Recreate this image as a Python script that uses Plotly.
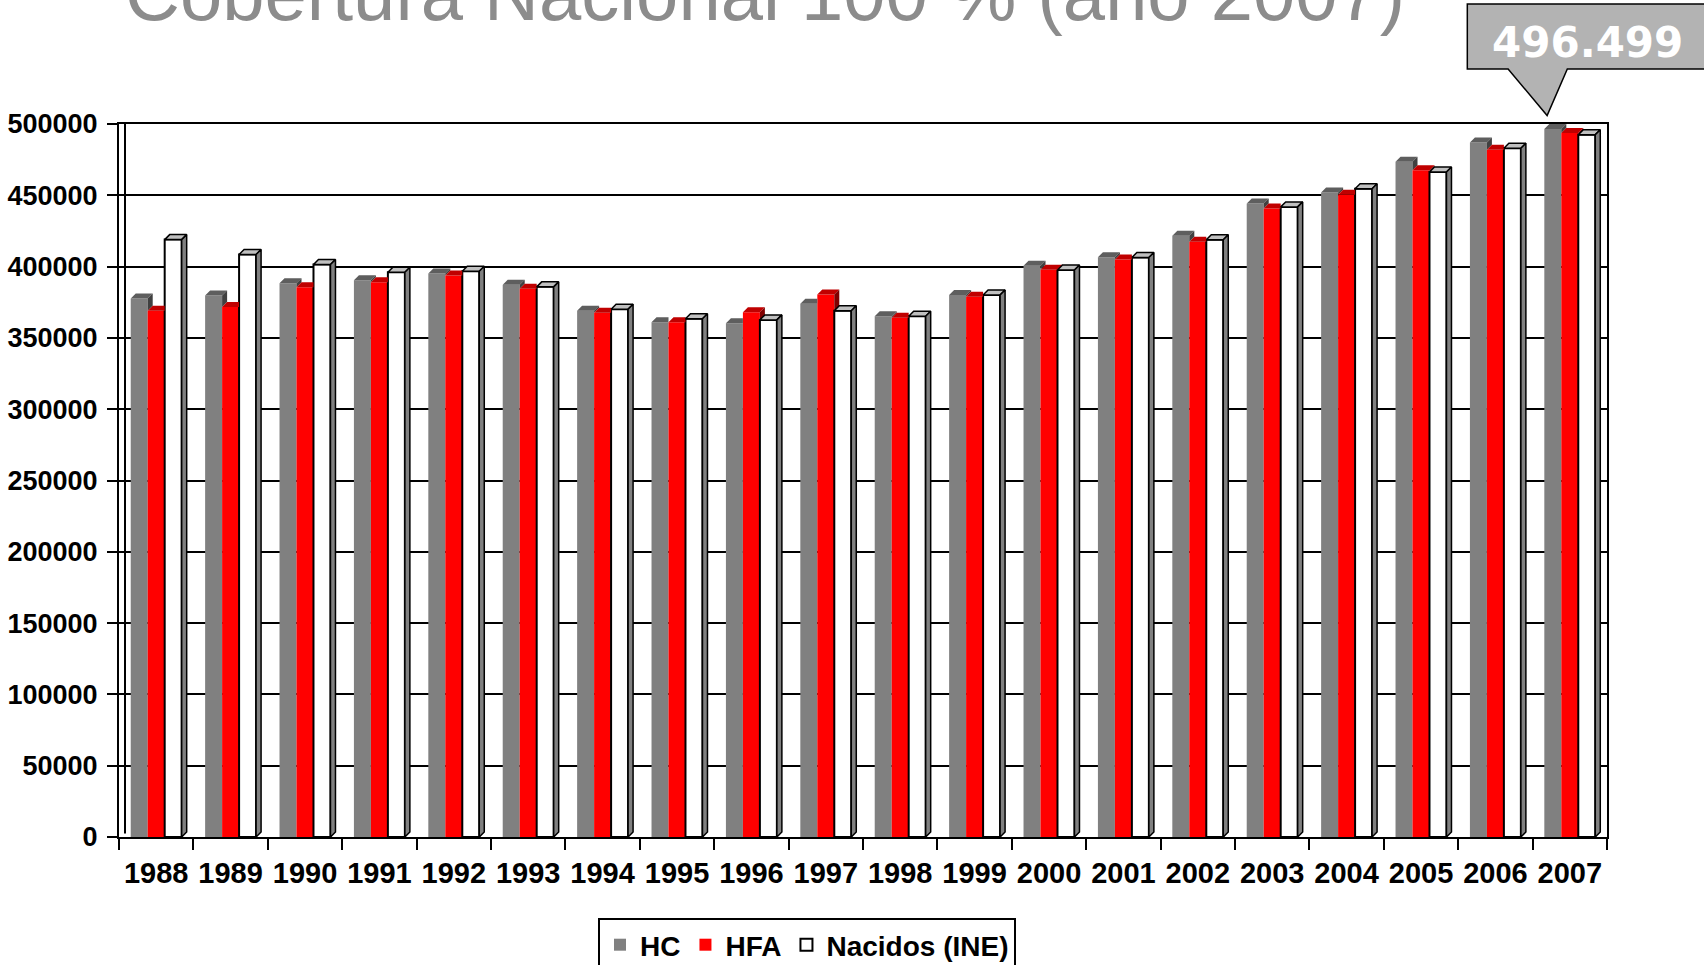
import plotly.graph_objects as go

# --- data -------------------------------------------------------------
years = [1988, 1989, 1990, 1991, 1992, 1993, 1994, 1995, 1996, 1997,
         1998, 1999, 2000, 2001, 2002, 2003, 2004, 2005, 2006, 2007]
hc = [377600, 379800, 388400, 390400, 395100, 387200, 369000, 360900, 360300, 373900,
      365200, 380100, 400600, 406600, 421600, 444300, 452000, 473600, 487100, 496499]
hfa = [369000, 371700, 385600, 389000, 393700, 384400, 367600, 360900, 368000, 380400,
       364100, 378900, 397800, 405000, 417500, 440800, 450400, 467500, 482000, 493700]
nacidos = [418919, 408434, 401425, 395989, 396747, 385786, 370148, 363469, 362626, 369035,
           365193, 380130, 397632, 406380, 418846, 441881, 454591, 466371, 482957, 492527]
series_names = ["HC", "HFA", "Nacidos (INE)"]
title_text = "Cobertura Nacional 100 % (año 2007)"

# --- geometry ---------------------------------------------------------
W, H = 1704, 965
L, R, T, B = 119, 97, 124, 128
plot_w = W - L - R
plot_h = H - T - B
YMAX = 500000
X0, X1 = years[0] - 0.5, years[-1] + 0.5
BARGAP = 0.315
bar_w = (1 - BARGAP) / 3
dx = 5.0 / plot_w * (X1 - X0)   # fake 3d depth, in data units
dy = 5.0 / plot_h * YMAX

FONT = "Liberation Sans, Arial, sans-serif"

front = ["#808080", "#ff0000", "#ffffff"]
top_col = ["#5e5e5e", "#c00000", "#c0c0c0"]
side_col = ["#404040", "#800000", "#808080"]
values = [hc, hfa, nacidos]


def px_x(px):
    return (px - L) / plot_w


def px_y(py):
    return (H - B - py) / plot_h


fig = go.Figure()

for i, (name, vals) in enumerate(zip(series_names, values)):
    fig.add_trace(go.Bar(
        x=years, y=vals, name=name,
        marker=dict(color=front[i],
                    line=dict(color="black", width=2 if i == 2 else 0)),
        hoverinfo="x+y+name",
    ))

# top and side faces of the bars (drawn after, in series order)
for i, vals in enumerate(values):
    tops_x, tops_y, sides_x, sides_y = [], [], [], []
    off = (i - 1) * bar_w
    for j, yr in enumerate(years):
        v = vals[j]
        xa = yr + off - bar_w / 2
        xb = xa + bar_w
        vn = values[i + 1][j] if i < 2 else 0
        if i < 2 and vn >= v:
            tops_x += [xa, xb, xb, xa + dx, xa, None]
            tops_y += [v, v, v + dy, v + dy, v, None]
        else:
            tops_x += [xa, xb, xb + dx, xa + dx, xa, None]
            tops_y += [v, v, v + dy, v + dy, v, None]
            sides_x += [xb, xb, xb + dx, xb + dx, xb, None]
            sides_y += [vn, v, v + dy, vn + dy, vn, None]
    lw = 1.5 if i == 2 else 0
    for xs, ys, col in ((tops_x, tops_y, top_col[i]), (sides_x, sides_y, side_col[i])):
        if not xs:
            continue
        fig.add_trace(go.Scatter(
            x=xs, y=ys, mode="lines", fill="toself", fillcolor=col,
            line=dict(color="black" if i == 2 else col, width=lw),
            showlegend=False, hoverinfo="skip",
        ))

# back wall edge on the left
fig.add_shape(type="line", xref="paper", yref="paper",
              x0=px_x(125), x1=px_x(125), y0=0.005, y1=1,
              line=dict(color="black", width=2))

# callout pointing at the 2007 HC bar
anchor_x = (years[-1] - bar_w - X0) / (X1 - X0)
anchor_y = hc[-1] / YMAX
fig.add_shape(
    type="path", xref="paper", yref="paper", layer="below",
    xsizemode="pixel", ysizemode="pixel",
    xanchor=anchor_x, yanchor=anchor_y,
    path="M -85.5,60 L -44.7,60 L -5.7,13.5 L 14.5,60 L 170,60 L 170,125 L -85.5,125 Z",
    fillcolor="#b3b3b3", line=dict(color="black", width=1.5),
)
fig.add_annotation(
    x=anchor_x, y=anchor_y, xref="paper", yref="paper",
    xanchor="center", yanchor="middle",
    xshift=35, yshift=86, showarrow=False,
    text=f"{hc[-1]:,}".replace(",", "."),
    font=dict(family="DejaVu Sans", size=42, color="white", weight=700),
)

# title, partly cut off by the top of the page
fig.add_annotation(
    x=px_x(123), y=px_y(38), xref="paper", yref="paper",
    xanchor="left", yanchor="bottom", showarrow=False,
    text=title_text,
    font=dict(family=FONT, size=76, color="#8c8c8c"),
)

fig.update_layout(
    width=W, height=H,
    margin=dict(l=L, r=R, t=T, b=B, autoexpand=False),
    paper_bgcolor="white", plot_bgcolor="white",
    barmode="group", bargap=BARGAP, bargroupgap=0,
    showlegend=True,
    legend=dict(
        orientation="h", x=px_x(807), xanchor="center",
        y=px_y(918), yanchor="top",
        font=dict(family=FONT, size=28, color="black", weight=700),
        bordercolor="black", borderwidth=2, bgcolor="white",
        traceorder="normal",
    ),
    xaxis=dict(
        range=[X0, X1],
        tickvals=years, ticktext=[str(y) for y in years],
        ticks="", ticklabelstandoff=9,
        tickfont=dict(family=FONT, size=29, color="black", weight=700),
        minor=dict(tickvals=[y - 0.5 for y in years] + [years[-1] + 0.5],
                   ticks="outside", ticklen=11, tickwidth=2, tickcolor="black",
                   showgrid=False),
        showgrid=False, zeroline=False,
        showline=True, linecolor="black", linewidth=2, mirror=True,
    ),
    yaxis=dict(
        range=[0, YMAX], tick0=0, dtick=50000, tickformat="d",
        ticks="outside", ticklen=10, tickwidth=2, tickcolor="black",
        ticklabelstandoff=4,
        tickfont=dict(family=FONT, size=27, color="black", weight=700),
        showgrid=True, gridcolor="black", gridwidth=2, zeroline=False,
        showline=True, linecolor="black", linewidth=2, mirror=True,
    ),
)

# drop the browser's default page margin so the figure sits at (0, 0)
fig.write_html("out.html", config={"displayModeBar": False},
               post_script="document.body.style.margin='0';")
